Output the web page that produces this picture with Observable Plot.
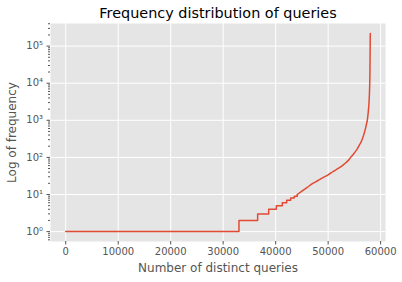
<!DOCTYPE html>
<html><head><meta charset="utf-8">
<script src="https://cdn.jsdelivr.net/npm/d3@7"></script>
<script src="https://cdn.jsdelivr.net/npm/@observablehq/plot@0.6"></script>
<style>body{margin:0;background:#fff}#chart svg{display:block}</style>
</head><body><div id="chart"></div>
<script>
const title = "Frequency distribution of queries";
const xLabel = "Number of distinct queries";
const yLabel = "Log of frequency";
const xTicks = [0, 10000, 20000, 30000, 40000, 50000, 60000];
const yTicks = [1, 10, 100, 1000, 10000, 100000];
const yTickLabels = ["10\u2070", "10\u00b9", "10\u00b2", "10\u00b3", "10\u2074", "10\u2075"];
// stepped part (integer frequencies)
const stepX = [0, 33010, 36570, 38670, 40130, 41270, 42100, 42860, 43550, 44130];
const stepY = [1, 2, 3, 4, 5, 6, 7, 8, 9, 10];
// smooth tail
const curveX = [44130, 45000, 46000, 47000, 48000, 49000, 50000, 51000, 52000, 53000, 54000, 54290, 55000, 55560, 56000, 56500, 57000, 57300, 57460, 57650, 57800, 57900, 57970, 58030];
const curveY = [10, 12.3, 15.5, 19.5, 23.5, 28.5, 34, 42, 51, 65, 88, 100, 132, 170, 220, 310, 520, 780, 1000, 1700, 3200, 7000, 22000, 220000];

const steps = stepX.map((x, i) => ({x, y: stepY[i]}));
const tail = curveX.map((x, i) => ({x, y: curveY[i]}));
const minorTicks = [];
for (let e = -1; e <= 5; e++) for (let k = 2; k <= 9; k++) minorTicks.push(k * 10 ** e);
const yDomain = [10 ** -0.267, 10 ** 5.609];
const minor = minorTicks.filter(v => v >= yDomain[0] && v <= yDomain[1]);
const gray = "#555555";

const chart = Plot.plot({
  width: 402, height: 282,
  marginLeft: 50, marginRight: 17, marginTop: 23, marginBottom: 41,
  style: {fontFamily: "DejaVu Sans", background: "#fff", overflow: "visible"},
  x: {domain: [-2901, 60931]},
  y: {type: "log", domain: yDomain},
  marks: [
    Plot.frame({fill: "#E5E5E5", stroke: null}),
    Plot.gridX(xTicks, {stroke: "white", strokeOpacity: 1, strokeWidth: 1}),
    Plot.gridY(yTicks, {stroke: "white", strokeOpacity: 1, strokeWidth: 1}),
    Plot.axisX(xTicks, {tickSize: 3.5, tickPadding: 2.5, stroke: gray, fill: gray, fontSize: 10, label: null, tickFormat: d => String(d)}),
    Plot.axisY(yTicks, {tickSize: 3.5, tickPadding: 4, stroke: gray, fill: gray, fontSize: 10, label: null, tickFormat: d => yTickLabels[yTicks.indexOf(d)]}),
    Plot.axisY(minor, {tickSize: 2, stroke: gray, text: null, label: null}),
    Plot.line(steps, {x: "x", y: "y", curve: "step-after", stroke: "#E24A33", strokeWidth: 1.5}),
    Plot.line(tail, {x: "x", y: "y", curve: "monotone-x", stroke: "#E24A33", strokeWidth: 1.5}),
    Plot.text([title], {frameAnchor: "top", lineAnchor: "middle", textAnchor: "middle", dy: -10, text: d => d, fontSize: 14.4, fill: "#000"}),
    Plot.text([xLabel], {frameAnchor: "bottom", lineAnchor: "middle", textAnchor: "middle", dy: 27, text: d => d, fontSize: 12, fill: gray}),
    Plot.text([yLabel], {frameAnchor: "left", lineAnchor: "middle", textAnchor: "middle", rotate: -90, dx: -38, text: d => d, fontSize: 12, fill: gray})
  ]
});
document.getElementById("chart").append(chart);
</script>
</body></html>
